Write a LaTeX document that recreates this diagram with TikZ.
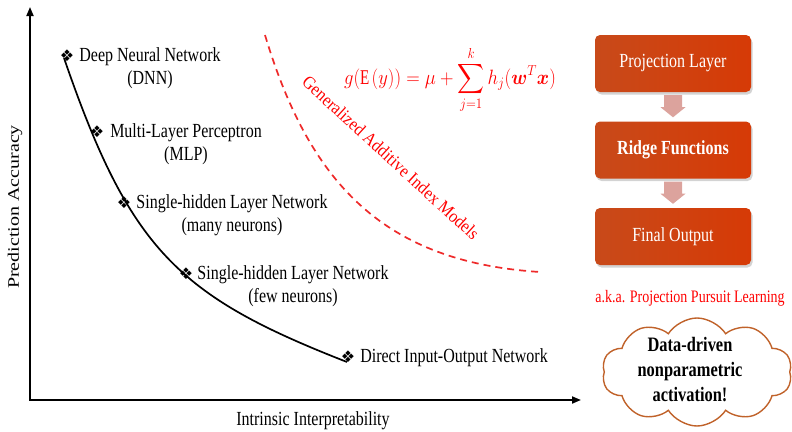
\documentclass[tikz,border=0pt]{standalone}
\usepackage{amsmath}
\usepackage{graphicx}
\usepackage{fontspec}
\setmainfont[FakeStretch=0.8]{Liberation Serif}
\newfontfamily\vertfont[FakeStretch=1.25]{Liberation Serif}
\newfontfamily\slantfont[FakeStretch=0.9]{Liberation Serif}
\newfontfamily\symfont{DejaVu Sans}
\usetikzlibrary{arrows.meta,calc,shadows,shapes.symbols}

\definecolor{boxL}{HTML}{C84A1A}
\definecolor{boxR}{HTML}{D63A06}
\definecolor{flowpink}{HTML}{DCA39D}
\definecolor{cloudline}{HTML}{C0622A}
\definecolor{gaimred}{HTML}{EE2A2A}

\tikzset{
  axisline/.style={line width=1.8pt, {Triangle[length=9pt,width=7pt]}-{Triangle[length=9pt,width=7pt]}},
  tradeoff/.style={line width=1.7pt, black},
  marker/.style={inner sep=0pt, font=\symfont\fontsize{16}{16}\selectfont},
  lbl/.style={align=center, inner sep=0pt, font=\fontsize{20}{23}\selectfont},
  gaimcurve/.style={gaimred, line width=1.7pt, dash pattern=on 7pt off 5pt},
  flowbox/.style={rounded corners=5pt, minimum width=156pt, minimum height=57pt,
    left color=boxL, right color=boxR, text=white, inner sep=0pt,
    font=\fontsize{20}{23}\selectfont,
    drop shadow={shadow xshift=1.5pt, shadow yshift=-2.5pt, opacity=0.35}},
  flowarrow/.style={fill=flowpink},
}

\begin{document}
\begin{tikzpicture}[x=1pt, y=-1pt]
\path[use as bounding box] (0,0) rectangle (792,431);

% axes
\coordinate (ytop) at (30,7);
\coordinate (orig) at (30,400);
\coordinate (xend) at (581,400);
\draw[axisline] (ytop) -- (orig) -- (xend);
\node[rotate=90, inner sep=0pt, font=\vertfont\fontsize{16}{16}\selectfont] (ylab) at (15,207) {Prediction Accuracy};
\node[inner sep=0pt, font=\fontsize{20}{20}\selectfont] (xlab) at (313,421) {Intrinsic Interpretability};

% trade-off curve
\coordinate (tstart) at (64,58);
\coordinate (tend) at (347,362);
\draw[tradeoff] (tstart) .. controls (130,250) and (178,296) .. (tend);

% model markers
\node[marker] (m1) at (67,56) {❖};
\node[marker] (m2) at (97,132) {❖};
\node[marker] (m3) at (124,203) {❖};
\node[marker] (m4) at (186,274) {❖};
\node[marker] (m5) at (348,357) {❖};

% model labels
\node[lbl] (l1) at (150,68.5) {Deep Neural Network\\(DNN)};
\node[lbl] (l2) at (186,144) {Multi-Layer Perceptron\\(MLP)};
\node[lbl] (l3) at (232,215) {Single-hidden Layer Network\\(many neurons)};
\node[lbl] (l4) at (293,286) {Single-hidden Layer Network\\(few neurons)};
\node[lbl] (l5) at (454,358) {Direct Input-Output Network};

% GAIM frontier
\coordinate (r1) at (265,35);
\coordinate (r2) at (540,272);
\draw[gaimcurve] (r1) .. controls (310,185) and (385,262) .. (r2);
\node[rotate=-42.5, text=red, inner sep=0pt, font=\slantfont\fontsize{18}{18}\selectfont] (gaim) at (391,158) {Generalized Additive Index Models};

% model equation
\node[text=red, inner sep=0pt, font=\fontsize{21}{24}\selectfont] (eq) at (450,80)
  {\scalebox{0.9}[1]{$\displaystyle g(\mathrm{E}(y)) = \mu + \sum_{j=1}^{k} h_j(\boldsymbol{w}^T\boldsymbol{x})$}};

% flow of the projection pursuit model
\node[flowbox] (b1) at (673,63.5) {Projection Layer};
\node[flowbox, font=\bfseries\fontsize{20}{23}\selectfont] (b2) at (673,150) {Ridge Functions};
\node[flowbox] (b3) at (673,236.5) {Final Output};

\fill[flowarrow] ($(b1.south)+(-9,3)$) -- ($(b1.south)+(9,3)$) -- ($(b1.south)+(9,15)$)
  -- ($(b1.south)+(12.5,15)$) -- ($(b2.north)+(0,-4)$) -- ($(b1.south)+(-12.5,15)$)
  -- ($(b1.south)+(-9,15)$) -- cycle;
\fill[flowarrow] ($(b2.south)+(-9,3)$) -- ($(b2.south)+(9,3)$) -- ($(b2.south)+(9,15)$)
  -- ($(b2.south)+(12.5,15)$) -- ($(b3.north)+(0,-4)$) -- ($(b2.south)+(-12.5,15)$)
  -- ($(b2.south)+(-9,15)$) -- cycle;

\node[text=red, inner sep=0pt, font=\fontsize{17.5}{17.5}\selectfont] (aka) at (690,298) {a.k.a. Projection Pursuit Learning};

% remark cloud
\node[cloud, cloud puffs=10, cloud puff arc=115, aspect=1.8, draw=cloudline, line width=1.4pt, fill=white,
  minimum width=190pt, minimum height=108pt, inner sep=0pt] (cl) at (697,372) {};
\node[align=center, inner sep=0pt, font=\bfseries\fontsize{20.5}{25}\selectfont] (cltext) at (690,370)
  {Data-driven\\nonparametric\\activation!};
\end{tikzpicture}
\end{document}
